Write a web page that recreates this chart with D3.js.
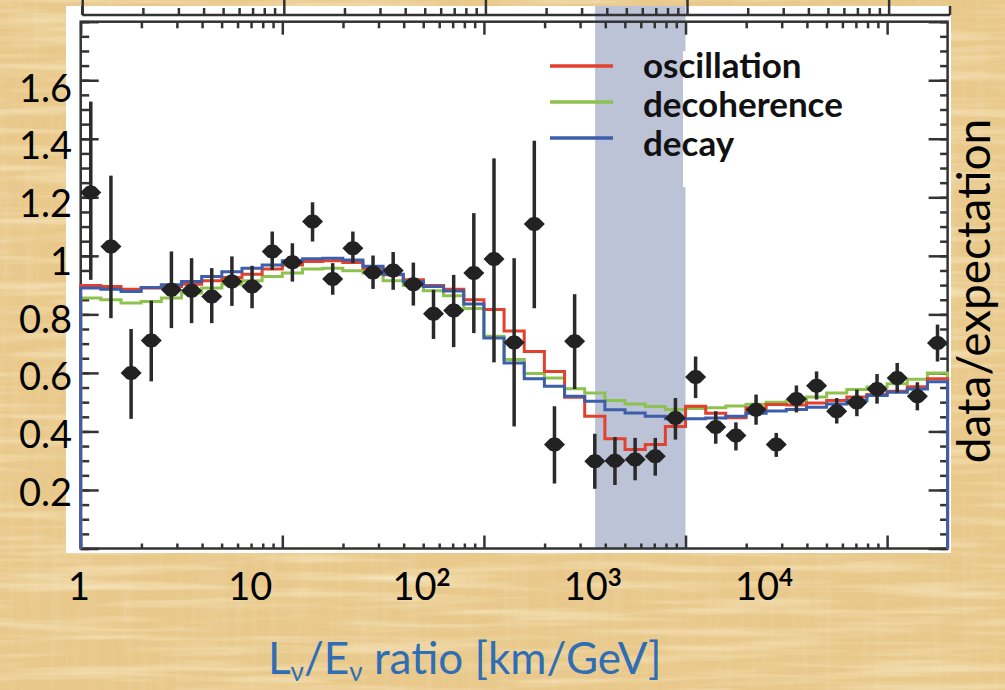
<!DOCTYPE html>
<html><head><meta charset="utf-8">
<script src="https://cdn.jsdelivr.net/npm/d3@7"></script>
<style>html,body{margin:0;padding:0;background:#e7c587;} svg{display:block}</style>
</head><body>
<svg id="c" width="1005" height="690"></svg>
<script>
// ---------- data ----------
// log10(L/E) bin edges (43 bins)
const binEdgesLog = [0,0.1,0.2,0.3,0.4,0.5,0.6,0.7,0.8,0.9,1.0,1.1,1.2,1.3,1.4,1.5,1.6,1.7,1.8,1.9,2.0,2.1,2.2,2.3,2.4,2.5,2.6,2.7,2.8,2.9,3.0,3.1,3.2,3.3,3.4,3.5,3.6,3.7,3.8,3.9,4.0,4.1,4.2,4.3];
// data/expectation points with error bar bounds
const dataVals = [1.216,1.032,0.600,0.711,0.884,0.881,0.861,0.912,0.895,1.015,0.978,1.117,0.921,1.026,0.943,0.950,0.903,0.802,0.813,0.941,0.989,0.704,1.109,0.355,0.708,0.298,0.300,0.304,0.315,0.446,0.586,0.415,0.386,0.474,0.355,0.511,0.556,0.469,0.499,0.545,0.583,0.520,0.702];
const dataLo   = [0.918,0.787,0.443,0.571,0.753,0.770,0.770,0.829,0.821,0.952,0.912,1.049,0.867,0.975,0.887,0.884,0.830,0.716,0.688,0.736,0.636,0.417,0.821,0.222,0.545,0.204,0.217,0.233,0.249,0.372,0.514,0.358,0.335,0.423,0.313,0.465,0.509,0.427,0.452,0.495,0.533,0.472,0.639];
const dataHi   = [1.527,1.274,0.750,0.847,1.015,0.992,0.958,0.998,0.966,1.083,1.043,1.183,0.975,1.083,1.001,1.013,0.977,0.884,0.935,1.146,1.333,0.992,1.393,0.486,0.869,0.392,0.381,0.378,0.378,0.514,0.656,0.469,0.431,0.526,0.395,0.557,0.605,0.514,0.543,0.596,0.634,0.568,0.765];
// model histograms
const oscillation  = [0.899,0.895,0.886,0.890,0.895,0.903,0.915,0.926,0.937,0.955,0.969,0.981,0.983,0.977,0.958,0.935,0.918,0.899,0.886,0.850,0.817,0.743,0.673,0.605,0.517,0.452,0.375,0.338,0.355,0.417,0.486,0.462,0.447,0.480,0.492,0.490,0.497,0.506,0.518,0.526,0.537,0.553,0.580];
const decoherence  = [0.856,0.850,0.839,0.844,0.856,0.873,0.890,0.903,0.915,0.929,0.941,0.955,0.958,0.949,0.941,0.915,0.899,0.881,0.864,0.820,0.725,0.646,0.598,0.583,0.546,0.531,0.506,0.494,0.485,0.475,0.478,0.481,0.487,0.493,0.500,0.504,0.518,0.531,0.543,0.552,0.563,0.578,0.600];
const decay        = [0.890,0.886,0.878,0.892,0.901,0.912,0.929,0.946,0.958,0.969,0.983,0.990,0.992,0.986,0.964,0.937,0.912,0.895,0.880,0.835,0.719,0.634,0.580,0.554,0.520,0.503,0.474,0.463,0.452,0.443,0.443,0.446,0.452,0.462,0.470,0.475,0.483,0.494,0.506,0.523,0.534,0.545,0.570];
const seriesNames  = ["oscillation","decoherence","decay"];
const seriesColors = ["#e2412e","#8dc24f","#3c5eab"];
const yTickLabels  = ["1.6","1.4","1.2","1","0.8","0.6","0.4","0.2"];
const xTickLabels  = [{v:1,base:"1",sup:""},{v:10,base:"10",sup:""},{v:100,base:"10",sup:"2"},{v:1000,base:"10",sup:"3"},{v:10000,base:"10",sup:"4"}];
const bandRange    = [356, 1000];
const xTitle = ["L","ν","/E","ν"," ratio [km/GeV]"];
const yTitle = "data/expectation";

// ---------- drawing ----------
const svg = d3.select("#c");
const defs = svg.append("defs");
defs.html(`
<filter id="tex1" x="0" y="0" width="100%" height="100%">
 <feTurbulence type="fractalNoise" baseFrequency="0.006 0.11" numOctaves="3" seed="7" result="t"/>
 <feColorMatrix in="t" type="matrix" values="0 0 0 0 0.98  0 0 0 0 0.90  0 0 0 0 0.68  1.6 0 0 0 -0.72"/>
</filter>
<filter id="tex2" x="0" y="0" width="100%" height="100%">
 <feTurbulence type="fractalNoise" baseFrequency="0.12 0.006" numOctaves="3" seed="3" result="t"/>
 <feColorMatrix in="t" type="matrix" values="0 0 0 0 0.84  0 0 0 0 0.66  0 0 0 0 0.40  1.5 0 0 0 -0.72"/>
</filter>`);
svg.append("rect").attr("width",1005).attr("height",690).attr("fill","#e9c98b");
svg.append("rect").attr("width",1005).attr("height",690).attr("filter","url(#tex2)").attr("opacity",0.6);
svg.append("rect").attr("width",1005).attr("height",690).attr("filter","url(#tex1)").attr("opacity",0.8);

const x = d3.scaleLog().domain([1, Math.pow(10,4.3)]).range([80.7, 947.6]);
const xUp = d3.scaleLog().domain([1, Math.pow(10,4.3)]).range([82.2, 949.1]);
const y = d3.scaleLinear().domain([0,1.8]).range([548.5, 21.7]);
const xLab = d3.scaleLog().domain([1,1e4]).range([79, 764]);
const yLab = d3.scaleLinear().domain([0.2,1.6]).range([492, 88]);

// white panel
svg.append("rect").attr("x",66).attr("y",6).attr("width",885).attr("height",547).attr("fill","#fff");

// shaded band
svg.append("rect").attr("x",x(bandRange[0])).attr("y",6)
  .attr("width",x(bandRange[1])-x(bandRange[0])).attr("height",y(0)-6).attr("fill","#bdc3d6");

// legend white box
svg.append("rect").attr("x",683).attr("y",51).attr("width",175).attr("height",136).attr("fill","#fff");

const axisCol = "#333";
const majors = [1,10,100,1000,10000];
const minors = [];
for (let d=0; d<=4; d++) for (let n=2;n<=9;n++){ const v=n*Math.pow(10,d); if (v < Math.pow(10,4.3)) minors.push(v); }
const yMaj = d3.range(0, 1.81, 0.2), yMin = d3.range(0, 1.81, 0.05);

function styleAxis(g){ g.select(".domain").remove(); g.selectAll("line").attr("stroke",axisCol).attr("stroke-width",2.5); }

// upper (cropped) panel bottom axis
const upG = svg.append("g");
upG.append("g").attr("transform","translate(0,15)").call(d3.axisTop(xUp).tickValues(minors).tickSize(7).tickFormat("")).call(styleAxis);
upG.append("g").attr("transform","translate(0,15)").call(d3.axisTop(xUp).tickValues(majors).tickSize(15).tickFormat("")).call(styleAxis);
upG.append("line").attr("x1",82.2).attr("x2",950).attr("y1",15).attr("y2",15).attr("stroke",axisCol).attr("stroke-width",2.5);
upG.append("line").attr("x1",82.2).attr("x2",82.2).attr("y1",6).attr("y2",15).attr("stroke",axisCol).attr("stroke-width",2.5);
upG.append("line").attr("x1",950).attr("x2",950).attr("y1",6).attr("y2",15).attr("stroke",axisCol).attr("stroke-width",2.5);

// main panel axes (ticks inside)
const y0 = y(0), y1 = y(1.8), x0 = x.range()[0], x1 = x.range()[1];
svg.append("g").attr("transform",`translate(0,${y0})`).call(d3.axisBottom(x).tickValues(minors).tickSize(-5).tickFormat("")).call(styleAxis);
svg.append("g").attr("transform",`translate(0,${y0})`).call(d3.axisBottom(x).tickValues(majors).tickSize(-13).tickFormat("")).call(styleAxis);
svg.append("g").attr("transform",`translate(0,${y1})`).call(d3.axisTop(x).tickValues(minors).tickSize(-6.6).tickFormat("")).call(styleAxis);
svg.append("g").attr("transform",`translate(0,${y1})`).call(d3.axisTop(x).tickValues(majors).tickSize(-13).tickFormat("")).call(styleAxis);
svg.append("g").attr("transform",`translate(${x0},0)`).call(d3.axisLeft(y).tickValues(yMin).tickSize(-8.5).tickFormat("")).call(styleAxis);
svg.append("g").attr("transform",`translate(${x0},0)`).call(d3.axisLeft(y).tickValues(yMaj).tickSize(-18).tickFormat("")).call(styleAxis);
svg.append("g").attr("transform",`translate(${x1},0)`).call(d3.axisRight(y).tickValues(yMin).tickSize(-7.5).tickFormat("")).call(styleAxis);
svg.append("g").attr("transform",`translate(${x1},0)`).call(d3.axisRight(y).tickValues(yMaj).tickSize(-19).tickFormat("")).call(styleAxis);
svg.append("rect").attr("x",x0).attr("y",y1).attr("width",x1-x0).attr("height",y0-y1)
  .attr("fill","none").attr("stroke",axisCol).attr("stroke-width",2.5);

// histograms
const edges = binEdgesLog.map(l => Math.pow(10,l));
const line = d3.line().x(d=>x(d[0])).y(d=>y(d[1])).curve(d3.curveStepAfter);
function stepPts(vals){
  const pts=[[edges[0],0]];
  vals.forEach((v,i)=>pts.push([edges[i],v]));
  pts.push([edges[edges.length-1], vals[vals.length-1]]);
  pts.push([edges[edges.length-1], 0]);
  return pts;
}
const seriesData = [oscillation, decoherence, decay];
[1,0,2].forEach(k=>{
  svg.append("path").attr("d", line(stepPts(seriesData[k]))).attr("fill","none")
    .attr("stroke", seriesColors[k]).attr("stroke-width",3);
});

// data points
const centers = binEdgesLog.slice(0,-1).map((l,i)=>Math.pow(10,(l+binEdgesLog[i+1])/2));
const pg = svg.append("g");
pg.selectAll("line.err").data(dataVals).join("line").attr("class","err")
  .attr("x1",(d,i)=>x(centers[i])).attr("x2",(d,i)=>x(centers[i]))
  .attr("y1",(d,i)=>y(dataLo[i])).attr("y2",(d,i)=>y(dataHi[i]))
  .attr("stroke","#2a2a2a").attr("stroke-width",3.5);
pg.selectAll("path.mk").data(dataVals).join("path").attr("class","mk")
  .attr("transform",(d,i)=>`translate(${x(centers[i])},${y(d)})`)
  .attr("d","M-10.5,0 L-4.5,-6 Q0,-8 4.5,-6 L10.5,0 L4.5,6 Q0,8 -4.5,6 Z")
  .attr("fill","#222");

// legend
const lg = svg.append("g");
seriesNames.forEach((n,i)=>{
  const ly = [66,102,138][i];
  lg.append("line").attr("x1",550).attr("x2",613).attr("y1",ly).attr("y2",ly)
    .attr("stroke",seriesColors[i]).attr("stroke-width",3.5);
  lg.append("text").attr("x",643).attr("y",[78,117,156][i]).text(n)
    .attr("font-family","Lato").attr("font-weight","bold").attr("font-size",35).attr("fill","#111");
});

// tick labels
svg.append("g").selectAll("text").data(yTickLabels).join("text")
  .attr("x",72).attr("y",d=>yLab(+d)+13.7).attr("text-anchor","end")
  .attr("font-family","Lato").attr("font-size",38).attr("fill","#000").text(d=>d);
const xl = svg.append("g").selectAll("text").data(xTickLabels).join("text")
  .attr("x",d=>xLab(d.v)).attr("y",600).attr("text-anchor","middle")
  .attr("font-family","Lato").attr("font-size",38).attr("fill","#000");
xl.append("tspan").text(d=>d.base);
xl.filter(d=>d.sup).append("tspan").attr("dy",-14).attr("font-size",24).attr("font-weight","bold").text(d=>d.sup);

// axis titles
const xt = svg.append("text").attr("x",268).attr("y",674).attr("font-family","Lato").attr("font-size",44).attr("fill","#2f6db5");
xTitle.forEach((s,i)=>{
  const t = xt.append("tspan").text(s);
  if (i%2===1){ t.attr("font-size",26).attr("dy",7); }
  else if (i>0){ t.attr("dy",-7); }
});
svg.append("text").attr("transform","translate(990,291) rotate(-90)").attr("text-anchor","middle")
  .attr("font-family","Lato").attr("font-size",46).attr("fill","#000").text(yTitle);
</script>
</body></html>
